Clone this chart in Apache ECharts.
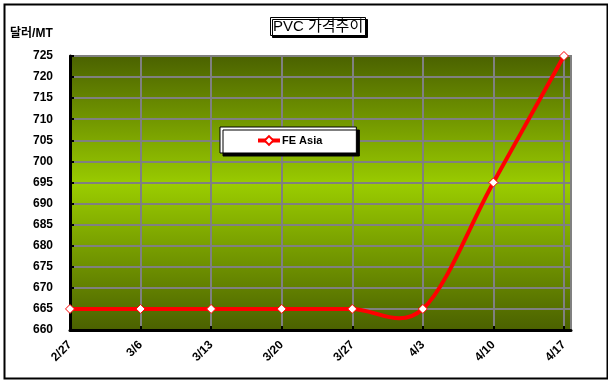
<!DOCTYPE html>
<html>
<head>
<meta charset="utf-8">
<script src="https://cdn.jsdelivr.net/npm/echarts@6/dist/echarts.min.js"></script>
<style>
html,body{margin:0;padding:0;background:#fff;}
#chart{width:608px;height:382px;}
</style>
</head>
<body>
<div id="chart"></div>
<script>
const categories = ['2/27', '3/6', '3/13', '3/20', '3/27', '4/3', '4/10', '4/17'];
const feAsia = [665, 665, 665, 665, 665, 665, 695, 725];
const yTicks = { min: 660, max: 725, step: 5 };
const chartTitle = 'PVC 가격추이';
const yUnit = '달러/MT';
const seriesName = 'FE Asia';

const FONT = "'Liberation Sans', Arial, 'Noto Sans CJK KR', sans-serif";
const chart = echarts.init(document.getElementById('chart'), null, { renderer: 'canvas' });

const pointData = feAsia.map(function (v, i) { return [i, v]; });

// Excel-style smoothed line (Catmull-Rom Bezier), computed in pixel space through the axes.
function renderSmooth(params, api) {
  const i = params.dataIndex;
  if (i >= pointData.length - 1) return null;
  const c = function (k) {
    k = Math.max(0, Math.min(pointData.length - 1, k));
    return api.coord(pointData[k]);
  };
  const p0 = c(i - 1), p1 = c(i), p2 = c(i + 1), p3 = c(i + 2);
  return {
    type: 'bezierCurve',
    shape: {
      x1: p1[0], y1: p1[1], x2: p2[0], y2: p2[1],
      cpx1: p1[0] + (p2[0] - p0[0]) / 6, cpy1: p1[1] + (p2[1] - p0[1]) / 6,
      cpx2: p2[0] - (p3[0] - p1[0]) / 6, cpy2: p2[1] - (p3[1] - p1[1]) / 6
    },
    style: { stroke: '#ff0000', lineWidth: 4, fill: null, lineCap: 'round' }
  };
}

chart.setOption({
  animation: false,
  backgroundColor: '#ffffff',
  title: {
    text: chartTitle,
    left: 270,
    top: 17,
    padding: [2, 3, 1, 3],
    backgroundColor: '#ffffff',
    borderColor: '#000',
    borderWidth: 1,
    shadowColor: '#000',
    shadowOffsetX: 2,
    shadowOffsetY: 2,
    shadowBlur: 0,
    textStyle: { fontFamily: FONT, fontSize: 15, fontWeight: 'normal', color: '#000', lineHeight: 16 }
  },
  legend: {
    left: 220,
    top: 127,
    padding: [8, 34, 7, 36],
    itemWidth: 22,
    itemHeight: 11,
    itemGap: 0,
    backgroundColor: '#ffffff',
    borderColor: '#000',
    borderWidth: 1,
    shadowColor: '#000',
    shadowOffsetX: 3,
    shadowOffsetY: 3,
    shadowBlur: 0,
    textStyle: { fontFamily: FONT, fontSize: 11, fontWeight: 'bold', color: '#000', padding: [0, 0, 0, -3] },
    data: [{ name: seriesName, lineStyle: { color: '#ff0000', width: 4, opacity: 1 } }]
  },
  graphic: [
    { type: 'rect', left: 2, top: 2, shape: { width: 603, height: 374 }, style: { fill: 'none', stroke: '#000', lineWidth: 2 }, silent: true },
    { type: 'text', left: 10, top: 28, style: { text: yUnit, font: 'bold 12px ' + FONT, fill: '#000' } }
  ],
  grid: {
    left: 70, top: 56, right: 37, bottom: 52,
    show: true,
    borderColor: '#808080',
    borderWidth: 2,
    backgroundColor: {
      type: 'linear', x: 0, y: 0, x2: 0, y2: 1,
      colorStops: [
        { offset: 0, color: '#4a6100' },
        { offset: 0.47, color: '#9acc00' },
        { offset: 1, color: '#4a6000' }
      ]
    }
  },
  xAxis: {
    type: 'value',
    min: 0,
    max: categories.length - 1 + 0.1,
    interval: 1,
    axisLine: { show: true, onZero: false, lineStyle: { color: '#000', width: 3 } },
    axisTick: { show: true, inside: true, length: 4, lineStyle: { color: '#000', width: 2 } },
    splitLine: { show: true, lineStyle: { color: '#808080', width: 2 } },
    axisLabel: {
      rotate: 45,
      margin: 13,
      fontFamily: FONT, fontSize: 12, fontWeight: 'bold', color: '#000',
      showMaxLabel: false,
      formatter: function (v) { return Number.isInteger(v) ? (categories[v] || '') : ''; }
    }
  },
  yAxis: {
    type: 'value',
    min: yTicks.min,
    max: yTicks.max,
    interval: yTicks.step,
    axisLine: { show: true, lineStyle: { color: '#000', width: 3 } },
    axisTick: { show: true, inside: true, length: 4, lineStyle: { color: '#000', width: 2 } },
    splitLine: { show: true, lineStyle: { color: '#808080', width: 2 } },
    axisLabel: { margin: 17, fontFamily: FONT, fontSize: 12, fontWeight: 'bold', color: '#000' }
  },
  series: [
    {
      name: 'smooth',
      type: 'custom',
      renderItem: renderSmooth,
      data: pointData,
      clip: false,
      z: 4,
      silent: true
    },
    {
      name: seriesName,
      type: 'line',
      data: pointData,
      symbol: 'diamond',
      symbolSize: 9,
      lineStyle: { color: '#ff0000', width: 4, opacity: 0 },
      itemStyle: { color: '#ffffff', borderColor: '#ff0000', borderWidth: 1 },
      z: 5
    }
  ]
});
</script>
</body>
</html>
